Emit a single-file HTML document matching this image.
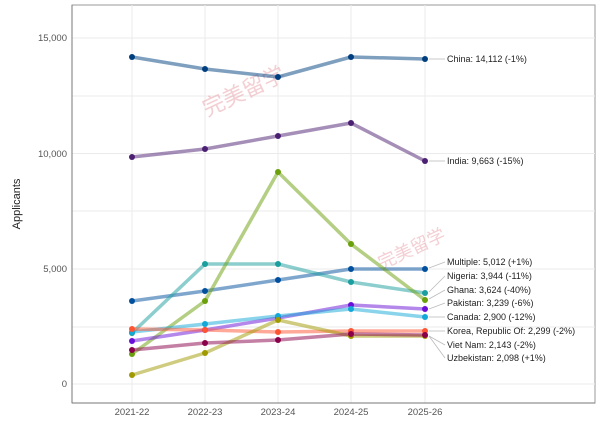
<!DOCTYPE html>
<html><head><style>body{margin:0;background:#fff}svg{display:block;font-family:"Liberation Sans",sans-serif}</style></head><body>
<svg width="600" height="422" viewBox="0 0 600 422">
<rect x="72" y="5" width="523" height="398" fill="#fff" stroke="#999" stroke-width="1"/>
<g stroke="#ebebeb" stroke-width="1">
<line x1="72" x2="595" y1="96" y2="96"/><line x1="72" x2="595" y1="211" y2="211"/><line x1="72" x2="595" y1="327" y2="327"/>
<line x1="72" x2="595" y1="38" y2="38"/><line x1="72" x2="595" y1="153.5" y2="153.5"/><line x1="72" x2="595" y1="269" y2="269"/><line x1="72" x2="595" y1="384" y2="384"/>
<line x1="132" x2="132" y1="5" y2="403"/><line x1="205" x2="205" y1="5" y2="403"/><line x1="278" x2="278" y1="5" y2="403"/><line x1="351" x2="351" y1="5" y2="403"/><line x1="425" x2="425" y1="5" y2="403"/>
</g>
<line x1="72" x2="72" y1="5" y2="403" stroke="#777"/><line x1="72" x2="595" y1="403" y2="403" stroke="#777"/>
<g font-size="9.5" fill="#555" text-anchor="end">
<text x="67" y="41">15,000</text><text x="67" y="157">10,000</text><text x="67" y="272">5,000</text><text x="67" y="387">0</text>
</g>
<g font-size="9.5" fill="#555" text-anchor="middle">
<text x="132" y="415">2021-22</text><text x="205" y="415">2022-23</text><text x="278" y="415">2023-24</text><text x="351" y="415">2024-25</text><text x="425" y="415">2025-26</text>
</g>
<text transform="translate(20,204) rotate(-90)" font-size="11" fill="#222" text-anchor="middle">Applicants</text>
<text x="200" y="105" font-size="22" fill="#e8a0a8" opacity="0.5" transform="rotate(-25 230 95)">完美留学</text>
<text x="375" y="260" font-size="18" fill="#e8a0a8" opacity="0.5" transform="rotate(-25 400 250)">完美留学</text>
<g stroke="#bbb" stroke-width="0.8" fill="none">
<line x1="429" y1="59" x2="445" y2="59"/><line x1="429" y1="161" x2="445" y2="161"/>
<line x1="429" y1="268" x2="445" y2="262"/><line x1="429" y1="292" x2="445" y2="276"/>
<line x1="429" y1="299" x2="445" y2="290"/><line x1="429" y1="309" x2="445" y2="303"/>
<line x1="429" y1="317" x2="445" y2="317"/><line x1="429" y1="331" x2="445" y2="331"/>
<line x1="429" y1="336" x2="445" y2="345"/><line x1="429" y1="336" x2="445" y2="358"/>
</g>
<g fill="none" stroke-width="3.5" stroke-opacity="0.5" stroke-linejoin="round">
<polyline stroke="#003f7f" points="132,57 205,69 278,77 351,57 425,59"/>
<polyline stroke="#4b1f72" points="132,157 205,149 278,136 351,123 425,161"/>
<polyline stroke="#00509e" points="132,301 205,291 278,280 351,269 425,269"/>
<polyline stroke="#1a9e9e" points="132,333 205,264 278,264 351,282 425,293"/>
<polyline stroke="#6aa00a" points="132,354 205,301 278,172 351,244 425,300"/>
<polyline stroke="#6a0fd8" points="132,341 205,330 278,318 351,305 425,309"/>
<polyline stroke="#13a8d8" points="132,332 205,324 278,316 351,309 425,317"/>
<polyline stroke="#ff5533" points="132,329 205,330 278,332 351,331 425,331"/>
<polyline stroke="#a09a00" points="132,375 205,353 278,320 351,336 425,336"/>
<polyline stroke="#8a004a" points="132,350 205,343 278,340 351,334 425,335"/>
</g>
<g>
<g fill="#003f7f"><circle cx="132" cy="57" r="3"/><circle cx="205" cy="69" r="3"/><circle cx="278" cy="77" r="3"/><circle cx="351" cy="57" r="3"/><circle cx="425" cy="59" r="3"/></g>
<g fill="#4b1f72"><circle cx="132" cy="157" r="3"/><circle cx="205" cy="149" r="3"/><circle cx="278" cy="136" r="3"/><circle cx="351" cy="123" r="3"/><circle cx="425" cy="161" r="3"/></g>
<g fill="#00509e"><circle cx="132" cy="301" r="3"/><circle cx="205" cy="291" r="3"/><circle cx="278" cy="280" r="3"/><circle cx="351" cy="269" r="3"/><circle cx="425" cy="269" r="3"/></g>
<g fill="#1a9e9e"><circle cx="132" cy="333" r="3"/><circle cx="205" cy="264" r="3"/><circle cx="278" cy="264" r="3"/><circle cx="351" cy="282" r="3"/><circle cx="425" cy="293" r="3"/></g>
<g fill="#6aa00a"><circle cx="132" cy="354" r="3"/><circle cx="205" cy="301" r="3"/><circle cx="278" cy="172" r="3"/><circle cx="351" cy="244" r="3"/><circle cx="425" cy="300" r="3"/></g>
<g fill="#6a0fd8"><circle cx="132" cy="341" r="3"/><circle cx="205" cy="330" r="3"/><circle cx="278" cy="318" r="3"/><circle cx="351" cy="305" r="3"/><circle cx="425" cy="309" r="3"/></g>
<g fill="#13a8d8"><circle cx="132" cy="332" r="3"/><circle cx="205" cy="324" r="3"/><circle cx="278" cy="316" r="3"/><circle cx="351" cy="309" r="3"/><circle cx="425" cy="317" r="3"/></g>
<g fill="#ff5533"><circle cx="132" cy="329" r="3"/><circle cx="205" cy="330" r="3"/><circle cx="278" cy="332" r="3"/><circle cx="351" cy="331" r="3"/><circle cx="425" cy="331" r="3"/></g>
<g fill="#a09a00"><circle cx="132" cy="375" r="3"/><circle cx="205" cy="353" r="3"/><circle cx="278" cy="320" r="3"/><circle cx="351" cy="336" r="3"/><circle cx="425" cy="336" r="3"/></g>
<g fill="#8a004a"><circle cx="132" cy="350" r="3"/><circle cx="205" cy="343" r="3"/><circle cx="278" cy="340" r="3"/><circle cx="351" cy="334" r="3"/><circle cx="425" cy="335" r="3"/></g>
</g>
<g font-size="9" fill="#222">
<text x="447" y="62">China: 14,112 (-1%)</text>
<text x="447" y="164">India: 9,663 (-15%)</text>
<text x="447" y="265">Multiple: 5,012 (+1%)</text>
<text x="447" y="279">Nigeria: 3,944 (-11%)</text>
<text x="447" y="293">Ghana: 3,624 (-40%)</text>
<text x="447" y="306">Pakistan: 3,239 (-6%)</text>
<text x="447" y="320">Canada: 2,900 (-12%)</text>
<text x="447" y="334">Korea, Republic Of: 2,299 (-2%)</text>
<text x="447" y="348">Viet Nam: 2,143 (-2%)</text>
<text x="447" y="361">Uzbekistan: 2,098 (+1%)</text>
</g>
</svg>
</body></html>
